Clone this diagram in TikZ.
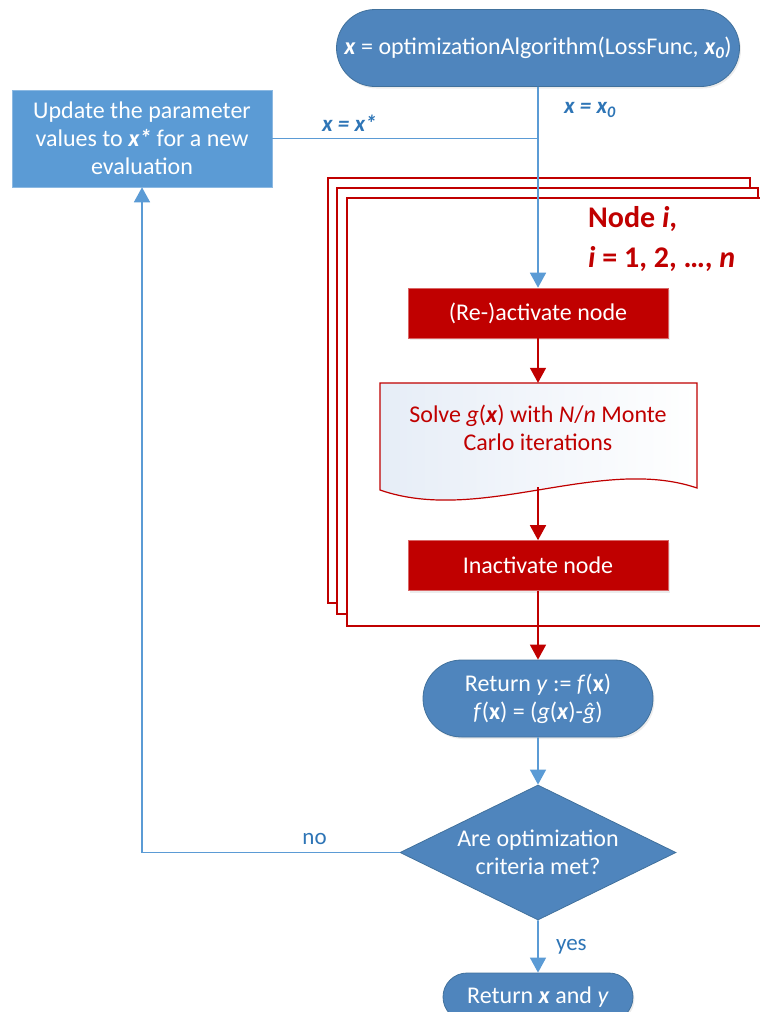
\documentclass[tikz,border=0pt]{standalone}
\usepackage{fontspec}
\setmainfont{Carlito}
\usetikzlibrary{arrows.meta}
\usetikzlibrary{shapes.geometric}
\usetikzlibrary{shapes.misc}
\usetikzlibrary{shadows}

\definecolor{pillblue}{HTML}{4F85BD}
\definecolor{pilledge}{HTML}{41719C}
\definecolor{boxblue}{HTML}{5B9BD5}
\definecolor{labelblue}{HTML}{2E75B6}
\definecolor{nodered}{HTML}{C00000}
\definecolor{docblue}{HTML}{E6EDF7}

\tikzset{
  softshadow/.style={drop shadow={opacity=0.15,shadow xshift=1.5pt,shadow yshift=-2pt}},
  pill/.style={rounded rectangle,fill=pillblue,draw=pilledge,line width=0.8pt,
    text=white,align=center,inner sep=0pt,softshadow},
  updatebox/.style={rectangle,fill=boxblue,draw=boxblue!70!white,line width=0.6pt,
    text=white,align=center,inner sep=0pt,minimum width=260pt,minimum height=97pt},
  redbox/.style={rectangle,fill=nodered,draw=nodered!60!white,line width=0.6pt,
    text=white,inner sep=0pt,minimum width=260pt,minimum height=50pt,softshadow},
  decision/.style={diamond,shape aspect=2,fill=pillblue,draw=pilledge,line width=0.8pt,
    text=white,align=center,inner sep=0pt,minimum width=276pt,minimum height=135pt},
  doctext/.style={text=nodered,align=center,inner sep=0pt,minimum width=317pt,minimum height=90pt},
  docline/.style={draw=nodered,line width=1.2pt,left color=docblue,right color=white},
  frame/.style={draw=nodered,line width=2.6pt,fill=white},
  bluearrow/.style={draw=boxblue,line width=1.6pt,-{Triangle[width=16pt,length=15pt]}},
  blueline/.style={draw=boxblue,line width=1.6pt},
  redarrow/.style={draw=nodered,line width=1.6pt,-{Triangle[width=16pt,length=15pt]}},
  edgelabel/.style={text=labelblue,font=\fontsize{23}{26}\selectfont\bfseries\itshape},
  answer/.style={text=labelblue,font=\fontsize{23}{26}\selectfont},
  nodelabel/.style={text=nodered,align=left,inner sep=0pt,font=\fontsize{30}{40}\selectfont\bfseries}
}

\begin{document}
\begin{tikzpicture}[x=1pt,y=-1pt,font=\fontsize{24}{28}\selectfont]

  \path[use as bounding box,clip] (0,0) rectangle (760,1012);

  % stacked frames for the n nodes
  \foreach \lx/\ty/\rx/\by in {328/178/750/603, 337/188/758/614, 347/198/770/626}
    \draw[frame] (\lx,\ty) rectangle (\rx,\by);

  \node[nodelabel,anchor=north west] (nodei) at (588,206)
    {Node \textit{i},\\\textit{i} = 1, 2, …, \textit{n}};

  % start and update
  \node[pill,minimum width=403pt,minimum height=77pt] (start) at (538,48)
    {\textbf{\textit{x}} = optimizationAlgorithm(LossFunc, \textbf{\textit{x\textsubscript{0}}})};
  \node[updatebox] (update) at (142,138.5)
    {Update the parameter\\values to \textbf{\textit{x*}} for a new\\evaluation};

  % node steps
  \node[redbox] (activate) at (538,313) {(Re-)activate node};
  \draw[docline] (380,383) -- (697,383) -- (697,488)
    .. controls (600,455) and (480,525) .. (380,490) -- cycle;
  \node[doctext] (solve) at (538,428)
    {Solve \textit{g}(\textbf{\textit{x}}) with \textit{N}/\textit{n} Monte\\Carlo iterations};
  \coordinate (solveend) at (538,487);
  \node[redbox] (inactivate) at (538,565.5) {Inactivate node};

  % result and check
  \node[pill,minimum width=230pt,minimum height=77pt] (result) at (538,698.5)
    {Return \textit{y} := \textit{f}(\textbf{x})\\\textit{f}(\textbf{x}) = (\textit{g}(\textbf{\textit{x}})-\textit{ĝ})};
  \node[decision] (check) at (538,852.5) {Are optimization\\criteria met?};
  \node[pill,minimum width=190pt,minimum height=48pt] (final) at (538,997)
    {Return \textbf{\textit{x}} and \textit{y}};

  % connectors
  \draw[bluearrow] (start) -- node[edgelabel,pos=0.115,right=22pt]
    {x = x\textsubscript{0}} (activate);
  \draw[blueline] (update.east) -- node[edgelabel,pos=0.29,above=3pt]
    {x = x*} (update.east -| start);
  \draw[redarrow] (activate) -- (solve);
  \draw[redarrow] (solveend) -- (inactivate);
  \draw[redarrow] (inactivate) -- (result);
  \draw[bluearrow] (result) -- (check);
  \draw[bluearrow] (check.west) -| node[answer,pos=0.165,above=4pt] {no} (update.south);
  \draw[bluearrow] (check) -- node[answer,right=14pt] {yes} (final);

\end{tikzpicture}
\end{document}
